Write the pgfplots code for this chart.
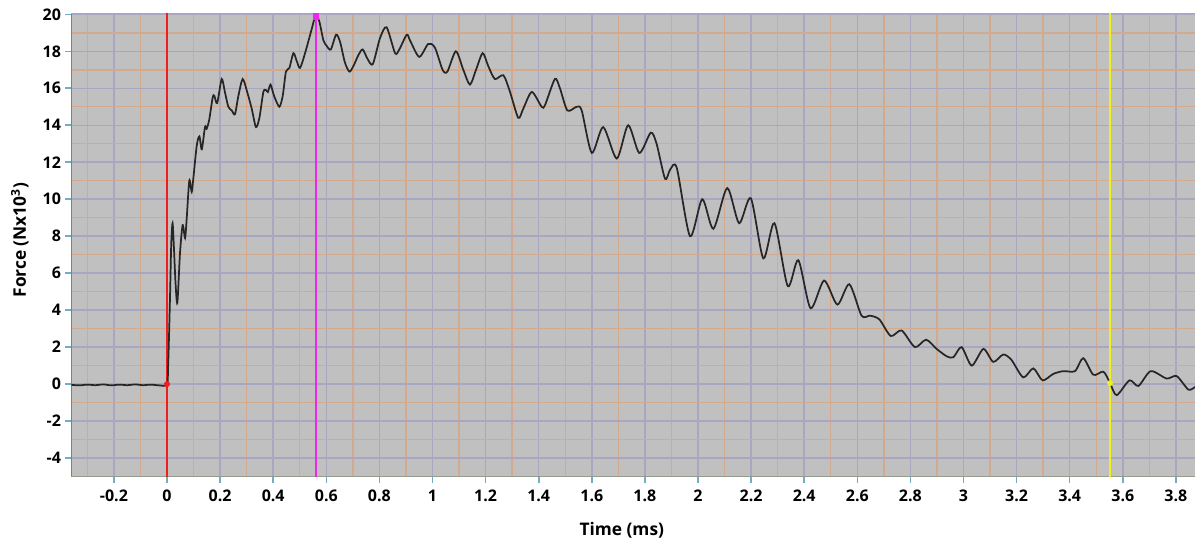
\documentclass[border=0pt]{standalone}
\usepackage{fontspec}
\setmainfont{Open Sans}
\usepackage{pgfplots}
\pgfplotsset{compat=1.18}
\definecolor{bggray}{RGB}{192,192,192}
\definecolor{majgrid}{RGB}{168,166,192}
\definecolor{mingrid}{RGB}{212,170,142}
\definecolor{axteal}{RGB}{78,150,150}
\definecolor{topteal}{RGB}{128,190,190}
\definecolor{tickteal}{RGB}{110,175,195}
\definecolor{botgray}{RGB}{150,155,140}
\definecolor{mkred}{RGB}{240,30,30}
\definecolor{mkmag}{RGB}{235,40,235}
\definecolor{mkyel}{RGB}{240,240,30}
\begin{document}
\begin{tikzpicture}
\useasboundingbox (0,0) rectangle (896.25pt,408pt);
\begin{axis}[
  at={(53.25pt,50.625pt)}, anchor=south west,
  scale only axis, width=843pt, height=347.6pt,
  xmin=-0.3616, xmax=3.872, ymin=-5, ymax=20.07,
  axis line style={draw=none},
  axis background/.style={fill=bggray},
  xtick={-0.2,0,0.2,0.4,0.6,0.8,1,1.2,1.4,1.6,1.8,2,2.2,2.4,2.6,2.8,3,3.2,3.4,3.6,3.8},
  xticklabels={-0.2,0,0.2,0.4,0.6,0.8,1,1.2,1.4,1.6,1.8,2,2.2,2.4,2.6,2.8,3,3.2,3.4,3.6,3.8},
  ytick={-4,-2,0,2,4,6,8,10,12,14,16,18,20},
  yticklabels={-4,-2,0,2,4,6,8,10,12,14,16,18,20},
  minor xtick={-0.3,-0.1,0.1,0.3,0.5,0.7,0.9,1.1,1.3,1.5,1.7,1.9,2.1,2.3,2.5,2.7,2.9,3.1,3.3,3.5,3.7},
  minor ytick={-3,-1,1,3,5,7,9,11,13,15,17,19},
  grid=both,
  major grid style={draw=majgrid, line width=1.1pt},
  minor grid style={draw=mingrid, line width=1.1pt},
  tick align=outside,
  major tick length=4.5pt, minor tick length=0pt,
  tick style={draw=tickteal, line width=1.2pt},
  xtick pos=bottom, ytick pos=left,
  tick label style={font=\bfseries\fontsize{12}{14}\selectfont},
  /pgf/number format/assume math mode=true,
  xticklabel style={yshift=-2pt},
  yticklabel style={xshift=0.5pt},
  xlabel={Time (ms)},
  ylabel={Force (Nx10\textsuperscript{3})},
  xlabel style={font=\bfseries\fontsize{13}{15}\selectfont, at={(axis description cs:0.49,-0.115)}, anchor=center},
  ylabel style={font=\bfseries\fontsize{13}{15}\selectfont, at={(axis description cs:-0.0455,0.51)}, anchor=center},
  clip=true,
]
\draw[draw=axteal, line width=1.8pt] (rel axis cs:0,0) -- (rel axis cs:0,1);
\draw[draw=topteal, line width=1.5pt] (rel axis cs:0,1) -- (rel axis cs:1,1);
\draw[draw=botgray, line width=1pt] (rel axis cs:0,0) -- (rel axis cs:1,0);
\addplot[draw=mkred, line width=0.9pt] coordinates {(0,-5) (0,20.07)};
\addplot[draw=mkmag, line width=1.2pt] coordinates {(0.562,-5) (0.562,20.07)};
\addplot[draw=mkyel, line width=0.9pt] coordinates {(3.552,-5) (3.552,20.07)};
\addplot[black!85, line width=1.3pt, smooth, tension=0.45] coordinates {
(-0.36,-0.04) (-0.33,-0.07) (-0.30,-0.03) (-0.27,-0.06) (-0.24,-0.02) (-0.21,-0.07)
(-0.18,-0.03) (-0.15,-0.06) (-0.12,-0.02) (-0.09,-0.06) (-0.06,-0.03) (-0.03,-0.07)
(0.000,-0.03) (0.004,0.9) (0.008,2.8) (0.012,5.1) (0.016,7.6) (0.021,8.7) (0.026,7.4)
(0.032,5.5) (0.039,4.4) (0.049,7.1) (0.059,8.6) (0.068,7.9) (0.074,8.9) (0.084,11.0)
(0.093,10.4) (0.099,11.1) (0.112,12.9) (0.122,13.4) (0.131,12.7) (0.143,13.9)
(0.149,13.8) (0.159,14.3) (0.172,15.5) (0.178,15.6) (0.189,15.2) (0.206,16.5)
(0.218,15.8) (0.231,15.0) (0.244,14.8) (0.256,14.6) (0.269,15.6) (0.285,16.5)
(0.302,15.8) (0.319,14.9) (0.335,13.9) (0.348,14.4) (0.363,15.8) (0.373,15.9)
(0.380,15.8) (0.390,16.2) (0.403,15.6) (0.423,15.0) (0.436,15.6) (0.448,16.9)
(0.461,17.1) (0.476,17.9) (0.488,17.5) (0.501,17.1) (0.520,17.9) (0.545,19.2)
(0.560,19.95) (0.574,19.6) (0.589,18.6) (0.601,18.3) (0.617,18.1) (0.637,18.9)
(0.652,18.5) (0.670,17.4) (0.687,16.9) (0.702,17.2) (0.721,17.8) (0.737,18.1)
(0.755,17.6) (0.775,17.3) (0.802,18.7) (0.827,19.3) (0.859,17.9) (0.875,18.1)
(0.903,18.9) (0.915,18.6) (0.950,17.7) (0.984,18.4) (1.009,18.2) (1.038,17.0)
(1.056,16.9) (1.088,18.0) (1.116,17.0) (1.141,16.2) (1.164,17.0) (1.189,17.9)
(1.210,17.2) (1.235,16.5) (1.267,16.7) (1.292,15.8) (1.323,14.4) (1.342,14.9)
(1.374,15.8) (1.411,15.0) (1.424,15.1) (1.461,16.5) (1.480,16.0) (1.508,14.8)
(1.543,15.0) (1.562,14.8) (1.600,12.5) (1.643,13.9) (1.694,12.2) (1.737,14.0)
(1.779,12.5) (1.822,13.6) (1.844,13.0) (1.876,11.1) (1.895,11.6) (1.920,11.7)
(1.970,8.0) (2.016,10.0) (2.058,8.4) (2.110,10.6) (2.155,8.7) (2.199,10.05)
(2.246,6.8) (2.288,8.7) (2.338,5.3) (2.378,6.7) (2.424,4.1) (2.475,5.6)
(2.525,4.3) (2.570,5.4) (2.616,3.7) (2.648,3.7) (2.683,3.5) (2.726,2.6)
(2.767,2.9) (2.817,2.0) (2.859,2.4) (2.899,1.9) (2.937,1.5) (2.962,1.45)
(2.993,2.0) (3.031,1.0) (3.075,1.9) (3.112,1.2) (3.150,1.6) (3.181,1.3)
(3.225,0.36) (3.263,0.85) (3.298,0.2) (3.338,0.55) (3.376,0.7) (3.420,0.7)
(3.451,1.4) (3.489,0.5) (3.527,0.67) (3.552,0.05) (3.577,-0.6) (3.625,0.2)
(3.659,-0.1) (3.705,0.7) (3.765,0.3) (3.803,0.43) (3.847,-0.3) (3.872,-0.15)
};
\addplot[only marks, mark=*, mark size=2pt, mkred] coordinates {(0,0)};
\addplot[only marks, mark=square*, mark size=2pt, mkmag] coordinates {(0.56,19.9)};
\addplot[only marks, mark=*, mark size=2pt, mkyel] coordinates {(3.552,0.05)};
\end{axis}
\end{tikzpicture}
\end{document}
